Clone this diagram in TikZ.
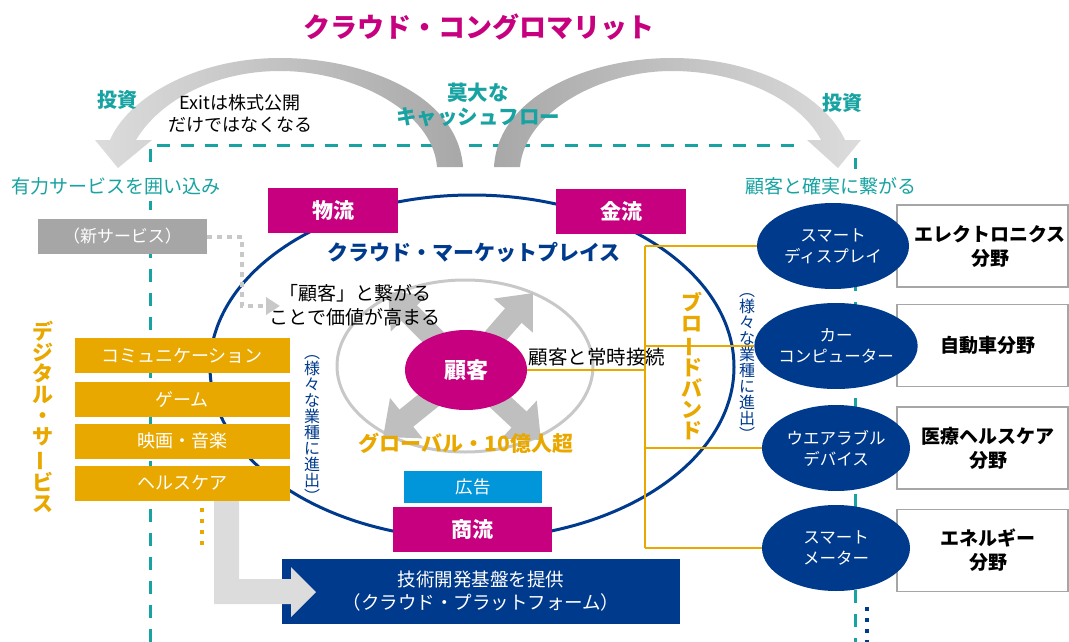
\documentclass[tikz,border=0pt]{standalone}
\usepackage{fontspec}
\setmainfont{Noto Sans CJK JP}
\usepackage{graphicx}
\usetikzlibrary{shapes.geometric,arrows.meta}
\definecolor{mag}{HTML}{C6007E}
\definecolor{tealc}{HTML}{17A3A1}
\definecolor{navy}{HTML}{003A8C}
\definecolor{orng}{HTML}{E9A800}
\definecolor{gbox}{HTML}{A6A6A6}
\definecolor{cyanb}{HTML}{0096D9}
\definecolor{agray}{HTML}{BFBFBF}
\definecolor{lgray}{HTML}{DCDCDC}
\definecolor{dgray}{HTML}{A8A8A8}
\definecolor{dotg}{HTML}{C8C8C8}
\newcommand{\fs}[2]{\fontsize{#1pt}{#2pt}\selectfont}
\newcommand{\vbar}{\rotatebox[origin=c]{90}{ー}}
\begin{document}
\begin{tikzpicture}[x=1pt,y=-1pt,
  tx/.style={inner sep=0, align=center},
  magbox/.style={fill=mag, text=white, font=\fs{21}{21}\bfseries, inner sep=0, minimum width=130, minimum height=45},
  orbox/.style={fill=orng, text=white, font=\fs{18}{18}, inner sep=0, minimum width=215, minimum height=35},
  rbox/.style={draw=gbox, line width=1.2, fill=white, inner sep=0, minimum width=171, minimum height=82},
  rtext/.style={tx, text=black, font=\fs{19}{24}\bfseries},
  rell/.style={ellipse, fill=navy, text=white, font=\fs{16.5}{21}, align=center, inner sep=0, minimum width=148, minimum height=86},
  tdash/.style={draw=tealc, line width=3, dash pattern=on 13 off 11},
  obr/.style={draw=orng, line width=1.3},
  carrow/.style={draw=agray, line width=22, -{Triangle[length=30,width=50]}},
]
\useasboundingbox (0,0) rectangle (1069,642);

% teal dashed frame
\coordinate (tl0) at (150,642);
\coordinate (tl1) at (150,145);
\coordinate (tl2) at (800,145);
\coordinate (tr0) at (855,158);
\coordinate (tr1) at (855,642);
\draw[tdash] (tl0) -- (tl1) -- (tl2);
\draw[tdash] (tr0) -- (tr1);

% curved arrows
\shade[left color=lgray, right color=dgray]
 (463,167) .. controls (458,95) and (365,58) .. (280,58)
 .. controls (195,58) and (128,98) .. (110,140)
 -- (95,140) -- (118,168) -- (152,140) -- (136,140)
 .. controls (160,100) and (215,71) .. (280,71)
 .. controls (355,71) and (433,112) .. (437,167) -- cycle;
\shade[left color=dgray, right color=lgray]
 (494,167) .. controls (498,95) and (590,58) .. (672,58)
 .. controls (760,58) and (826,98) .. (845,140)
 -- (861,140) -- (838,168) -- (807,140) -- (821,140)
 .. controls (800,100) and (740,71) .. (672,71)
 .. controls (600,71) and (525,112) .. (520,167) -- cycle;

% big ellipse
\draw[navy, line width=3] (472,367) ellipse [x radius=262, y radius=172];
% inner ellipse
\draw[dotg, line width=3] (465,366) ellipse [x radius=128, y radius=86];

% center arrows
\coordinate (cc) at (466,370);
\coordinate (aur) at (533,293);
\coordinate (aul) at (388,292);
\coordinate (adl) at (383,437);
\coordinate (adr) at (541,440);
\draw[carrow] (cc) -- (aur);
\draw[carrow] (cc) -- (aul);
\draw[carrow] (cc) -- (adl);
\draw[carrow] (cc) -- (adr);
\node[ellipse, fill=mag, text=white, font=\fs{22}{22}\bfseries, inner sep=0, minimum width=122, minimum height=80] (kok) at (466,370) {顧客};

% magenta boxes
\node[magbox] (buturyu) at (333,210.5) {物流};
\node[magbox] (kinryu) at (621,211.5) {金流};
\node[magbox, minimum width=159] (shoryu) at (472.5,529.5) {商流};
\node[fill=cyanb, text=white, font=\fs{17.5}{17.5}, inner sep=0, minimum width=138, minimum height=32] (kokoku) at (473,487) {広告};

% orange bracket
\coordinate (bt) at (645,246);
\coordinate (bb) at (645,548);
\coordinate (bk) at (645,370);
\draw[obr] (bt) -- (bb);
\draw[obr] (kok.east) -- (bk);

% right boxes
\node[rbox] (rb1) at (982.5,246) {};
\node[rbox] (rb2) at (982.5,345.5) {};
\node[rbox] (rb3) at (982.5,448) {};
\node[rbox] (rb4) at (982.5,550.5) {};
\node[rtext] (rt1) at (990,246) {エレクトロニクス\\分野};
\node[rtext] (rt2) at (988,345.5) {自動車分野};
\node[rtext] (rt3) at (988,448) {医療ヘルスケア\\分野};
\node[rtext] (rt4) at (988,550.5) {エネルギー\\分野};

% right ellipses
\node[rell, minimum width=152] (e1) at (833,246) {スマート\\ディスプレイ};
\node[rell] (e2) at (836,346) {カー\\コンピューター};
\node[rell] (e3) at (836,448) {ウエアラブル\\デバイス};
\node[rell] (e4) at (836,548) {スマート\\メーター};
\coordinate (b1) at (645,246);
\coordinate (b2) at (645,346);
\coordinate (b3) at (645,448);
\coordinate (b4) at (645,548);
\draw[obr] (b1) -- (e1.west);
\draw[obr] (b2) -- (e2.west);
\draw[obr] (b3) -- (e3.west);
\draw[obr] (b4) -- (e4.west);

% navy dots
\coordinate (nd1) at (867,607);
\coordinate (nd2) at (867,645);
\draw[navy, line width=4, dash pattern=on 4 off 7] (nd1) -- (nd2);

% left side
\node[fill=gbox, text=white, font=\fs{17}{17}, inner sep=0, minimum width=169, minimum height=35] (nsv) at (122.5,236.5) {（新サービス）};
\coordinate (dtip) at (280,306);
\draw[dotg, line width=4, dash pattern=on 5 off 5, -{Triangle[length=14,width=17]}] (nsv.east) -- ++(35,0) |- (dtip);

\node[orbox] (o1) at (182,355.5) {コミュニケーション};
\node[orbox] (o2) at (182,399.5) {ゲーム};
\node[orbox] (o3) at (182,441) {映画・音楽};
\node[orbox] (o4) at (182,483) {ヘルスケア};
\coordinate (od1) at (202,508);
\coordinate (od2) at (202,545);
\draw[orng, line width=4.5, dash pattern=on 4 off 7] (od1) -- (od2);

\node[fill=navy, text=white, font=\fs{18.5}{23}, align=center, inner sep=0, minimum width=398, minimum height=65] (plat) at (481,591.5) {技術開発基盤を提供\\（クラウド・プラットフォーム）};
\fill[lgray] (214,501) -- (239,501) -- (239,579) -- (291,579) -- (291,567) -- (316,592) -- (291,617) -- (291,604) -- (214,604) -- cycle;

% texts
\node[tx, text=mag, font=\fs{27}{27}\bfseries] (title) at (479,27) {クラウド・コングロマリット};
\node[tx, text=tealc, font=\fs{20}{20}\bfseries] (inv1) at (117,100) {投資};
\node[tx, text=tealc, font=\fs{20}{20}\bfseries] (inv2) at (842,103) {投資};
\node[tx, text=black, font=\fs{18}{22}] (exit) at (240,114) {Exitは株式公開\\だけではなくなる};
\node[tx, text=tealc, font=\fs{20.5}{24}\bfseries] (cash) at (478,105) {莫大な\\キャッシュフロー};
\node[tx, fill=white, inner ysep=6, text=tealc, font=\fs{19}{19}] (lt) at (116,186) {有力サービスを囲い込み};
\node[tx, fill=white, inner ysep=8, text=tealc, font=\fs{19}{19}] (rt) at (831,186) {顧客と確実に繋がる};
\node[tx, text=navy, font=\fs{21}{21}\bfseries] (cmk) at (474,252) {クラウド・マーケットプレイス};
\node[tx, text=black, font=\fs{19}{24}] (kach) at (355,305) {「顧客」と繋がる\\ことで価値が高まる};
\node[tx, text=black, font=\fs{19.5}{19.5}] (joji) at (597,357) {顧客と常時接続};
\node[tx, text=orng, font=\fs{21}{21}\bfseries] (glob) at (466,443) {グローバル・10億人超};

% vertical texts
\node[tx, text=orng, font=\fs{21}{21}\bfseries] (dgs) at (43,417) {デ\\ジ\\タ\\ル\\・\\サ\\\vbar\\ビ\\ス};
\node[tx, text=orng, font=\fs{21}{21}\bfseries] (bb2) at (692,366) {ブ\\ロ\\\vbar\\ド\\バ\\ン\\ド};
\node[tx, text=navy, font=\fs{16}{16}] (vs1) at (312,429) {︵\\様\\々\\な\\業\\種\\に\\進\\出\\︶};
\node[tx, text=navy, font=\fs{16}{16}] (vs2) at (747,367) {︵\\様\\々\\な\\業\\種\\に\\進\\出\\︶};
\end{tikzpicture}
\end{document}
